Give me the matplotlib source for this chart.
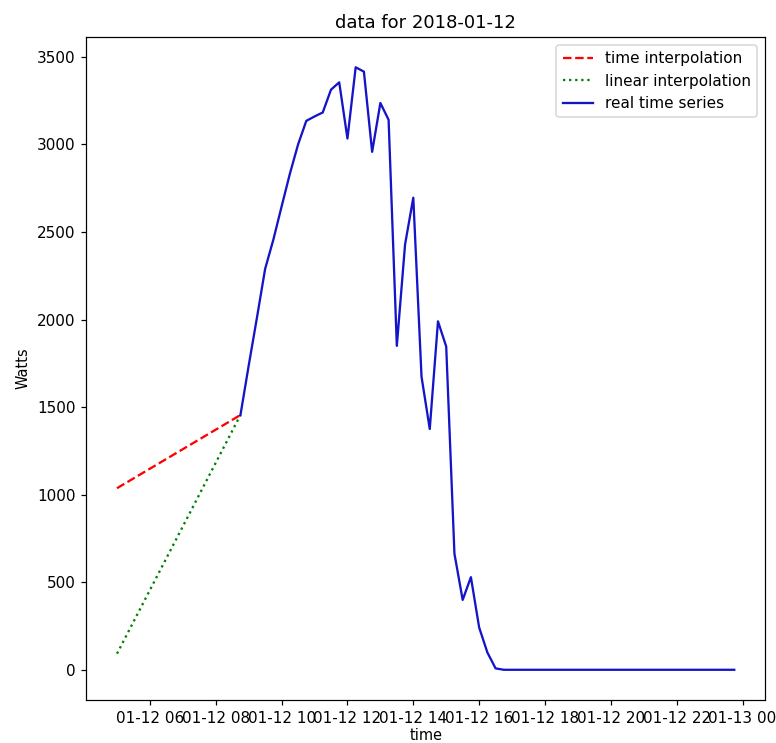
"""Solar power for one day: real series plus two ways of filling the morning gap."""

import numpy as np
import pandas as pd
import matplotlib
matplotlib.use('Agg')
import matplotlib.pyplot as plt
import matplotlib.dates as mdates


DAY = '2018-01-12'
DPI = 110

# real measurements, 15-minute steps from 08:45 to 23:45
real_start = '2018-01-12 08:45'
real_watts = [
    1455, 1737, 2010, 2290, 2457, 2646, 2832, 3000,
    3135, 3160, 3183, 3313, 3355, 3034, 3441, 3416,
    2958, 3237, 3141, 1850, 2429, 2696, 1674, 1375,
    1990, 1846, 663, 399, 529, 242, 99, 8,
] + [0] * 29

# gap filled between 05:00 and 08:45
gap_times = ['2018-01-12 05:00', '2018-01-12 08:45']
time_interp = [1037, 1455]
linear_interp = [92, 1455]


def plot_day():
    real_idx = pd.date_range(real_start, periods=len(real_watts), freq='15min')
    gap_idx = pd.to_datetime(gap_times)

    fig = plt.figure(figsize=(776 / DPI, 743 / DPI), dpi=DPI)
    ax = fig.add_axes([0.111, 0.058, 0.875, 0.892])

    ax.plot(gap_idx, time_interp, 'r--', label='time interpolation')
    ax.plot(gap_idx, linear_interp, color='green', linestyle=':', label='linear interpolation')
    ax.plot(real_idx, real_watts, color='#1414c8', label='real time series')

    ax.xaxis.set_major_locator(mdates.HourLocator(byhour=range(0, 24, 2)))
    ax.xaxis.set_major_formatter(mdates.DateFormatter('%m-%d %H'))
    ax.set_yticks(np.arange(0, 3501, 500))

    ax.set_title(f'data for {DAY}', fontsize=11.8)
    ax.set_xlabel('time', fontsize=9.5, labelpad=1.5)
    ax.set_ylabel('Watts', fontsize=9.5)
    ax.legend(loc='upper right')

    fig.savefig('out.png', dpi=DPI)
    plt.close(fig)


if __name__ == '__main__':
    plot_day()
